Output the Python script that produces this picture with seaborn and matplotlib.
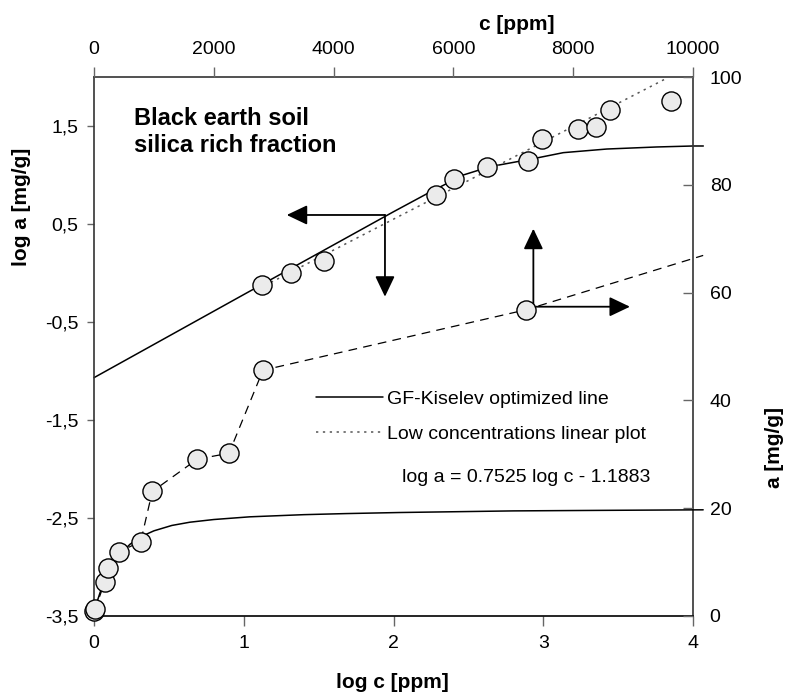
import numpy as np
import pandas as pd
import matplotlib
matplotlib.use("Agg")
import matplotlib.pyplot as plt
from matplotlib.lines import Line2D
from matplotlib.ticker import FixedLocator, FuncFormatter
import seaborn as sns

# ---------------- data ----------------
# upper series: log-log (bottom x = log c, left y = log a)
log_c_pts = [1.12, 1.313, 1.538, 2.282, 2.404, 2.627, 2.898, 2.992, 3.234, 3.352, 3.446, 3.851]
log_a_pts = [-0.122, -0.003, 0.126, 0.796, 0.959, 1.085, 1.143, 1.367, 1.469, 1.487, 1.667, 1.758]

# GF-Kiselev optimized line in log-log coordinates
log_c_fit = [0.0, 1.0, 2.0, 2.22, 2.466, 2.644, 2.912, 3.134, 3.424, 3.758, 4.0, 4.069]
log_a_fit = [-1.068, -0.22, 0.625, 0.806, 1.0, 1.085, 1.16, 1.228, 1.265, 1.286, 1.296, 1.296]

# low-concentrations linear plot (log-log)
log_c_lin = [1.10, 3.815]
log_a_lin = [-0.16, 1.98]

# lower series: linear (top x = c, right y = a)
c_pts = [0, 17, 178, 239, 417, 779, 973, 1725, 2254, 2821, 7207]
a_pts = [1.0, 1.25, 6.25, 8.85, 11.9, 13.8, 23.1, 29.1, 30.2, 45.6, 56.8]
c_dash = c_pts + [10170]
a_dash = a_pts + [66.9]

# GF-Kiselev optimized line in linear coordinates
c_fit = [0, 50, 100, 180, 260, 420, 600, 800, 1000, 1300, 1600, 2000, 2600, 3500,
         4200, 5100, 7000, 8500, 10170]
a_fit = [0.5, 2.6, 4.3, 6.5, 8.4, 11.3, 13.3, 14.8, 15.8, 16.8, 17.4, 17.9, 18.4, 18.8,
         19.0, 19.2, 19.5, 19.6, 19.7]

bottom_ticks = [0, 1, 2, 3, 4]
left_ticks = [-3.5, -2.5, -1.5, -0.5, 0.5, 1.5]
top_ticks = [0, 2000, 4000, 6000, 8000, 10000]
right_ticks = [0, 20, 40, 60, 80, 100]

# ---------------- style ----------------
sns.set_theme(style="white")
plt.rcParams["font.family"] = ["Liberation Sans", "DejaVu Sans"]
plt.rcParams["text.color"] = "black"
plt.rcParams["axes.labelcolor"] = "black"
plt.rcParams["xtick.color"] = "black"
plt.rcParams["ytick.color"] = "black"

W, H = 790, 697
fig = plt.figure(figsize=(W / 100, H / 100), dpi=100)
L, R, T, B = 94, 693, 77, 616
ax = fig.add_axes([L / W, 1 - B / H, (R - L) / W, (B - T) / H])
ax2 = ax.twinx()
ax3 = ax2.twiny()

TICK = 14
face = "#ebebeb"
spine_c = "#333333"

# upper (log) series
sns.lineplot(x=log_c_fit, y=log_a_fit, ax=ax, sort=False, estimator=None,
             color="black", linewidth=1.1, clip_on=False)
sns.lineplot(x=log_c_lin, y=log_a_lin, ax=ax, sort=False, estimator=None,
             color="#555555", linewidth=1.1, linestyle=(0, (1.5, 3)))
sns.scatterplot(x=log_c_pts, y=log_a_pts, ax=ax, s=190, color=face,
                edgecolor="black", linewidth=1.0, zorder=5, clip_on=False)

# lower (linear) series
sns.lineplot(x=c_fit, y=a_fit, ax=ax3, sort=False, estimator=None,
             color="black", linewidth=1.1, clip_on=False)
sns.lineplot(x=c_dash, y=a_dash, ax=ax3, sort=False, estimator=None,
             color="black", linewidth=0.9, linestyle=(0, (7, 5)), clip_on=False)
sns.scatterplot(x=c_pts, y=a_pts, ax=ax3, s=190, color=face,
                edgecolor="black", linewidth=1.0, zorder=5, clip_on=False)

# limits
ax.set_xlim(0, 4)
ax.set_ylim(-3.5, 2.0)
ax3.set_xlim(0, 10000)
ax2.set_ylim(0, 100)

# ticks
ax.xaxis.set_major_locator(FixedLocator(bottom_ticks))
ax.yaxis.set_major_locator(FixedLocator(left_ticks))
ax.yaxis.set_major_formatter(FuncFormatter(lambda v, p: f"{v:.1f}".replace(".", ",")))
ax.xaxis.set_major_formatter(FuncFormatter(lambda v, p: f"{v:g}"))
ax3.xaxis.set_major_locator(FixedLocator(top_ticks))
ax2.yaxis.set_major_locator(FixedLocator(right_ticks))

ax.tick_params(axis="x", direction="out", length=7, width=1, color="#666666",
               labelcolor="black", labelsize=TICK, pad=7, bottom=True)
ax.tick_params(axis="y", direction="out", length=5, width=1, color="#666666",
               labelcolor="black", labelsize=TICK, pad=6, left=True)
ax3.tick_params(axis="x", direction="out", length=7, width=1, color="#666666",
                labelcolor="black", labelsize=TICK, pad=7, top=True)
ax2.tick_params(axis="y", direction="in", length=7, width=1, color="#666666",
                labelcolor="black", labelsize=TICK, pad=12, right=True)

for a_ in (ax, ax2, ax3):
    a_.set_xlabel("")
    a_.set_ylabel("")
    a_.grid(False)
for a_ in (ax2, ax3):
    for s in a_.spines.values():
        s.set_visible(False)
for name, s in ax.spines.items():
    s.set_visible(True)
    s.set_linewidth(1.2)
    s.set_color("black" if name == "bottom" else spine_c)

# axis labels
lab = dict(fontsize=15, fontweight="bold", color="black")
ax.set_xlabel("log c [ppm]", **lab)
ax.xaxis.set_label_coords((392 - L) / (R - L), (B - 683) / (B - T))
ax.xaxis.label.set_verticalalignment("center")
ax.set_ylabel("log a [mg/g]", **lab)
ax.yaxis.set_label_coords((22 - L) / (R - L), (B - 207) / (B - T))
ax.yaxis.label.set_verticalalignment("center")
ax3.set_xlabel("c [ppm]", **lab)
ax3.xaxis.set_label_position("top")
ax3.xaxis.set_label_coords((517 - L) / (R - L), (B - 25) / (B - T))
ax3.xaxis.label.set_verticalalignment("center")
ax2.set_ylabel("a [mg/g]", **lab)
ax2.yaxis.set_label_position("right")
ax2.yaxis.set_label_coords((775 - L) / (R - L), (B - 447) / (B - T))
ax2.yaxis.label.set_verticalalignment("center")
ax2.yaxis.label.set_rotation(90)

# title text
ax.text((134 - L) / (R - L), (B - 132) / (B - T), "Black earth soil\nsilica rich fraction",
        transform=ax.transAxes, fontsize=17, fontweight="bold", ha="left", va="center",
        linespacing=1.25, color="black")

# equation
ax.text((402 - L) / (R - L), (B - 477) / (B - T), "log a = 0.7525 log c - 1.1883",
        transform=ax.transAxes, fontsize=TICK, ha="left", va="center", color="black")

# legend
handles = [Line2D([], [], color="black", linewidth=1.1),
           Line2D([], [], color="#555555", linewidth=1.1, linestyle=(0, (1.5, 3)))]
leg = ax3.legend(handles, ["GF-Kiselev optimized line", "Low concentrations linear plot"],
                 loc="upper left", bbox_to_anchor=((316 - L) / (R - L), (B - 390) / (B - T)),
                 frameon=False, fontsize=TICK, handlelength=3.45, handletextpad=0.18,
                 borderpad=0, borderaxespad=0, labelspacing=0.9)
for t in leg.get_texts():
    t.set_color("black")

# arrows (annotation)
arr = dict(arrowstyle="-|>,head_length=0.42,head_width=0.2", mutation_scale=30,
           shrinkA=0, shrinkB=0, color="black", lw=1.3)
ax.annotate("", xy=(1.287, 0.592), xytext=(1.943, 0.592), arrowprops=arr)
ax.annotate("", xy=(1.943, -0.242), xytext=(1.943, 0.592), arrowprops=arr)
ax.annotate("", xy=(2.934, 0.452), xytext=(2.934, -0.344), arrowprops=arr)
ax.annotate("", xy=(3.579, -0.344), xytext=(2.934, -0.344), arrowprops=arr)

fig.savefig("out.png", dpi=100)
